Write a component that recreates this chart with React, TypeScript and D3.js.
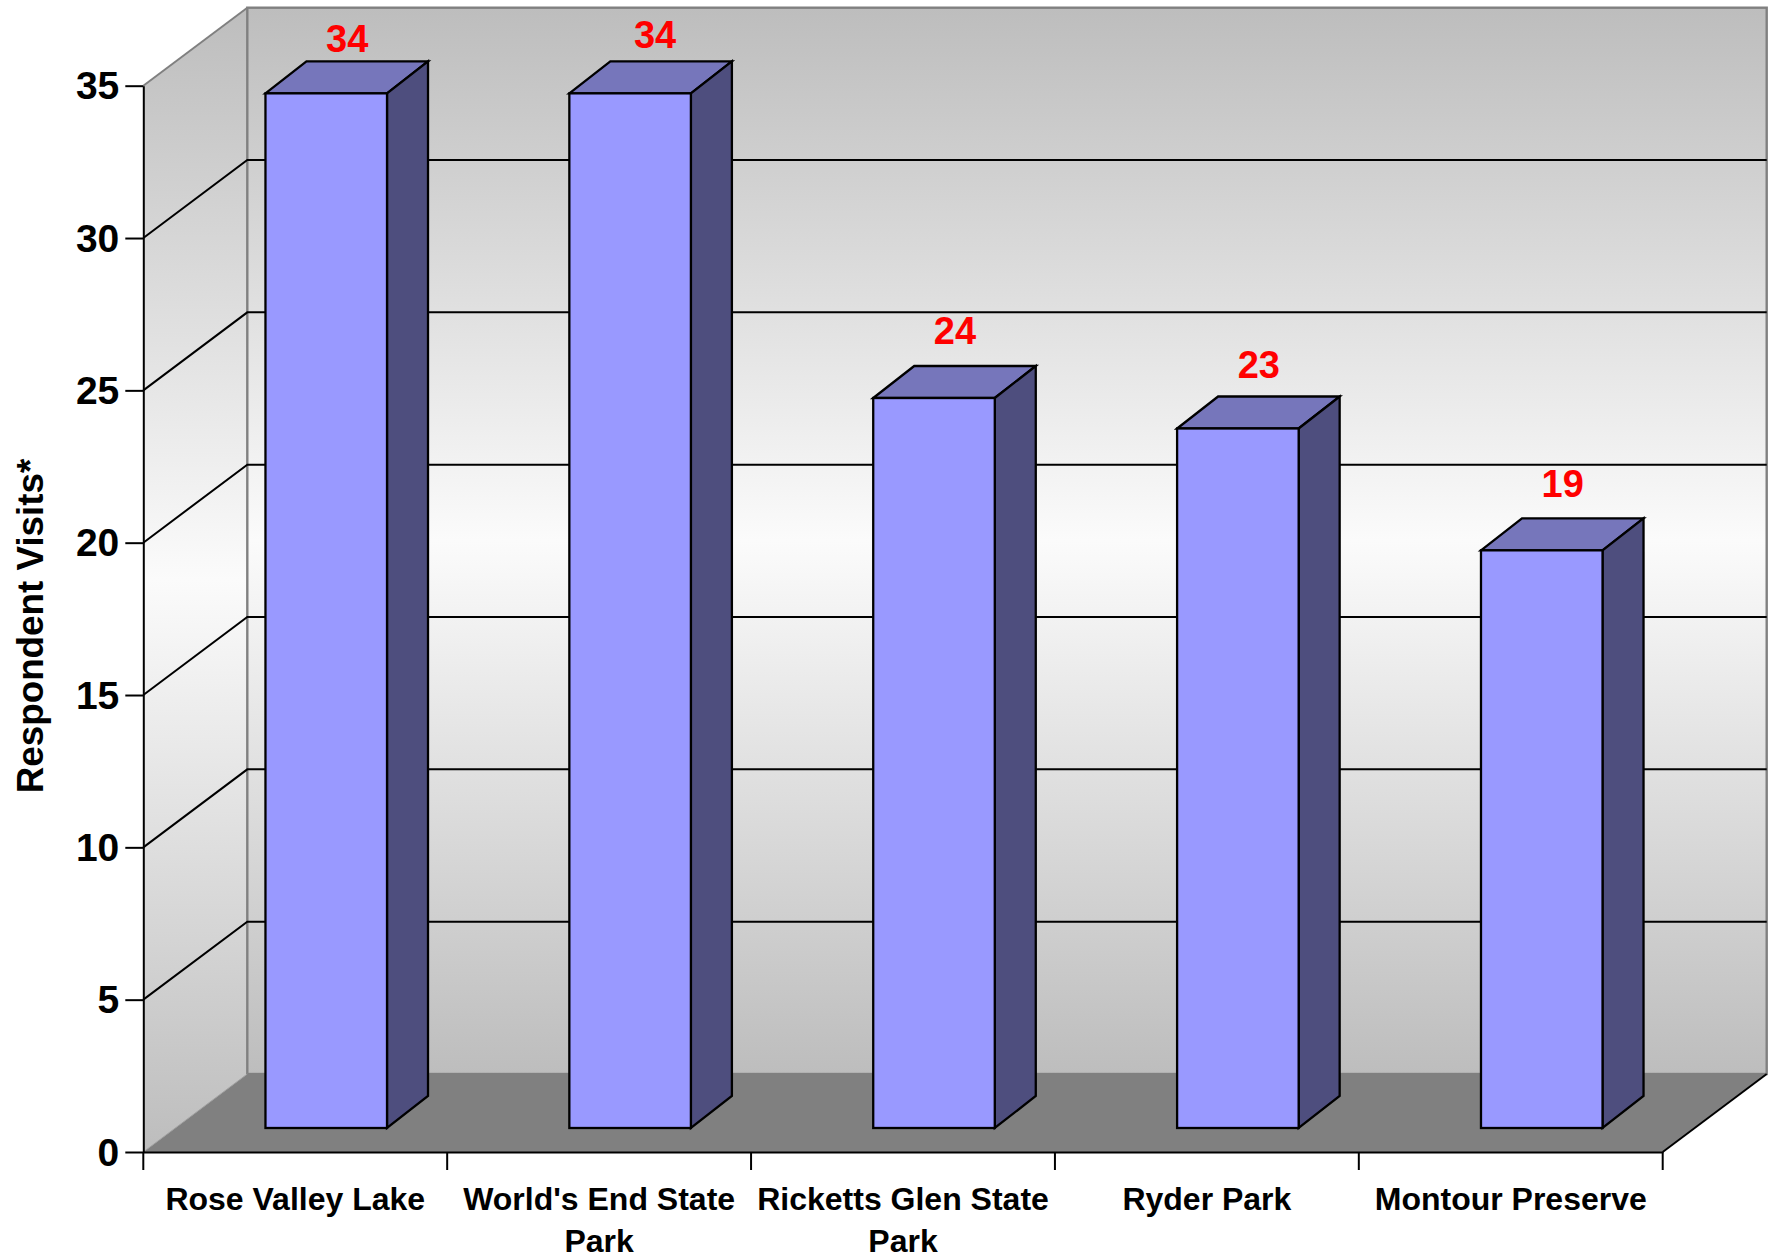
import { useEffect, useRef } from "react";
import * as d3 from "d3";

const categories = ["Rose Valley Lake", "World's End State Park", "Ricketts Glen State Park", "Ryder Park", "Montour Preserve"];
const categoryLines = [["Rose Valley Lake"], ["World's End State", "Park"], ["Ricketts Glen State", "Park"], ["Ryder Park"], ["Montour Preserve"]];
const visits = [34, 34, 24, 23, 19];
const yTicks = [0, 5, 10, 15, 20, 25, 30, 35];
// hand nudges for the red labels, the original placed them a bit unevenly
const labelNudgeX = [0, 4, 0, 0, 0];
const labelNudgeY = [13, 9, 0, 4, 1];

const width = 1771;
const height = 1258;
const x0 = 143.3;
const x1 = 1662.7;
const y0 = 1152;
const y35 = 85.7;
const depthX = 104;
const depthY = 78;
const barDepthX = 41;
const barDepthY = 32;
const barInsetX = 31; // bars sit part of the way into the floor
const barInsetY = 24;
const barTopInsetY = 22.8;
const font = "'Liberation Sans', Arial, sans-serif";

const App = () => {
  const svgRef = useRef<SVGSVGElement | null>(null);

  useEffect(() => {
    const svg = d3.select(svgRef.current);
    svg.selectAll("*").remove();

    const xScale = d3.scaleBand<string>().domain(categories).range([x0, x1]).paddingInner(0.6).paddingOuter(0.3);
    const bandScale = d3.scaleBand<string>().domain(categories).range([x0, x1]);
    const yScale = d3.scaleLinear().domain([0, 35]).range([y0, y35]);

    const grad = svg.append("defs").append("linearGradient")
      .attr("id", "wall")
      .attr("x1", 0).attr("x2", 0)
      .attr("y1", 0).attr("y2", 1);
    grad.append("stop").attr("offset", 0).attr("stop-color", "#bdbdbd");
    grad.append("stop").attr("offset", 0.5).attr("stop-color", "#fbfbfb");
    grad.append("stop").attr("offset", 1).attr("stop-color", "#bdbdbd");

    // left wall
    svg.append("path")
      .attr("d", d3.line()([[x0, y35], [x0 + depthX, y35 - depthY], [x0 + depthX, y0 - depthY], [x0, y0]]) + "Z")
      .attr("fill", "url(#wall)");
    svg.append("path")
      .attr("d", d3.line()([[x0, y35], [x0 + depthX, y35 - depthY]]))
      .attr("stroke", "#808080").attr("stroke-width", 2);

    // back wall
    svg.append("rect")
      .attr("x", x0 + depthX).attr("y", y35 - depthY)
      .attr("width", x1 - x0).attr("height", y0 - y35)
      .attr("fill", "url(#wall)")
      .attr("stroke", "#808080").attr("stroke-width", 2.4);

    // floor
    svg.append("path")
      .attr("d", d3.line()([[x0, y0], [x1, y0], [x1 + depthX, y0 - depthY], [x0 + depthX, y0 - depthY]]) + "Z")
      .attr("fill", "#808080");
    svg.append("path")
      .attr("d", d3.line()([[x0, y0], [x0 + depthX, y0 - depthY]]))
      .attr("stroke", "#a0a0a0").attr("stroke-width", 1);
    svg.append("path")
      .attr("d", d3.line()([[x1, y0], [x1 + depthX, y0 - depthY]]))
      .attr("stroke", "#000").attr("stroke-width", 2);

    // grid lines run along the left wall and across the back
    svg.append("g").selectAll("path")
      .data(yTicks.filter((t) => t > 0 && t < 35))
      .enter()
      .append("path")
      .attr("d", (t) => d3.line()([[x0, yScale(t)], [x0 + depthX, yScale(t) - depthY], [x1 + depthX, yScale(t) - depthY]]))
      .attr("fill", "none")
      .attr("stroke", "#000").attr("stroke-width", 2);

    // bars
    const bars = svg.append("g").selectAll("g")
      .data(categories)
      .enter()
      .append("g")
      .attr("stroke", "#000").attr("stroke-width", 2.3).attr("stroke-linejoin", "miter");
    const bw = xScale.bandwidth();
    const left = (d: string) => xScale(d)! + barInsetX;
    const top = (i: number) => yScale(visits[i]) - barTopInsetY;
    const bottom = y0 - barInsetY;

    bars.append("path")
      .attr("d", (d, i) => d3.line()([[left(d), top(i)], [left(d) + barDepthX, top(i) - barDepthY], [left(d) + bw + barDepthX, top(i) - barDepthY], [left(d) + bw, top(i)]]) + "Z")
      .attr("fill", "#7676bb");
    bars.append("path")
      .attr("d", (d, i) => d3.line()([[left(d) + bw, top(i)], [left(d) + bw + barDepthX, top(i) - barDepthY], [left(d) + bw + barDepthX, bottom - barDepthY], [left(d) + bw, bottom]]) + "Z")
      .attr("fill", "#4e4e7e");
    bars.append("rect")
      .attr("x", (d) => left(d))
      .attr("y", (_, i) => top(i))
      .attr("width", bw)
      .attr("height", (_, i) => bottom - top(i))
      .attr("fill", "#9999ff");

    // value labels
    svg.append("g").selectAll("text")
      .data(visits)
      .enter()
      .append("text")
      .attr("x", (_, i) => left(categories[i]) + bw / 2 + 21 + labelNudgeX[i])
      .attr("y", (d, i) => yScale(d) - barInsetY - 53 + labelNudgeY[i])
      .attr("text-anchor", "middle")
      .attr("font-family", font).attr("font-weight", "bold").attr("font-size", 38)
      .attr("fill", "#ff0000")
      .text((d) => d);

    // axes
    const yAxis = svg.append("g")
      .attr("transform", `translate(${x0},0)`)
      .call(d3.axisLeft(yScale).tickValues(yTicks).tickSize(18).tickSizeOuter(0).tickPadding(6));
    yAxis.selectAll("path,line").attr("stroke", "#000").attr("stroke-width", 2);
    yAxis.selectAll("text")
      .attr("font-family", font).attr("font-weight", "bold").attr("font-size", 39).attr("fill", "#000")
      .attr("dy", "0.34em");

    const xAxis = svg.append("g")
      .attr("transform", `translate(0,${y0})`)
      .call(d3.axisBottom(bandScale).tickSize(0).tickSizeOuter(0).tickFormat(() => ""));
    xAxis.selectAll("path").attr("stroke", "#000").attr("stroke-width", 2);
    xAxis.selectAll(".tick").remove();

    const boundaries = [...categories.map((d) => bandScale(d)!), x1];
    xAxis.append("g").selectAll("line")
      .data(boundaries)
      .enter()
      .append("line")
      .attr("x1", (d) => d).attr("x2", (d) => d)
      .attr("y1", 0).attr("y2", 18)
      .attr("stroke", "#000").attr("stroke-width", 2);

    const catText = svg.append("g").selectAll("text")
      .data(categories)
      .enter()
      .append("text")
      .attr("text-anchor", "middle")
      .attr("font-family", font).attr("font-weight", "bold").attr("font-size", 32)
      .attr("fill", "#000");
    catText.selectAll("tspan")
      .data((_, i) => categoryLines[i])
      .enter()
      .append("tspan")
      .attr("x", function () {
        const d = d3.select((this as any).parentNode).datum() as string;
        return bandScale(d)! + bandScale.bandwidth() / 2;
      })
      .attr("y", (_, j) => 1210 + j * 42)
      .text((d) => d);

    svg.append("text")
      .attr("transform", "translate(43,626) rotate(-90)")
      .attr("text-anchor", "middle")
      .attr("font-family", font).attr("font-weight", "bold").attr("font-size", 36.8)
      .attr("fill", "#000")
      .text("Respondent Visits*");
  }, []);

  return <svg ref={svgRef} width={width} height={height} style={{ position: "absolute", left: 0, top: 0, background: "#fff" }}></svg>;
};

export default App;
